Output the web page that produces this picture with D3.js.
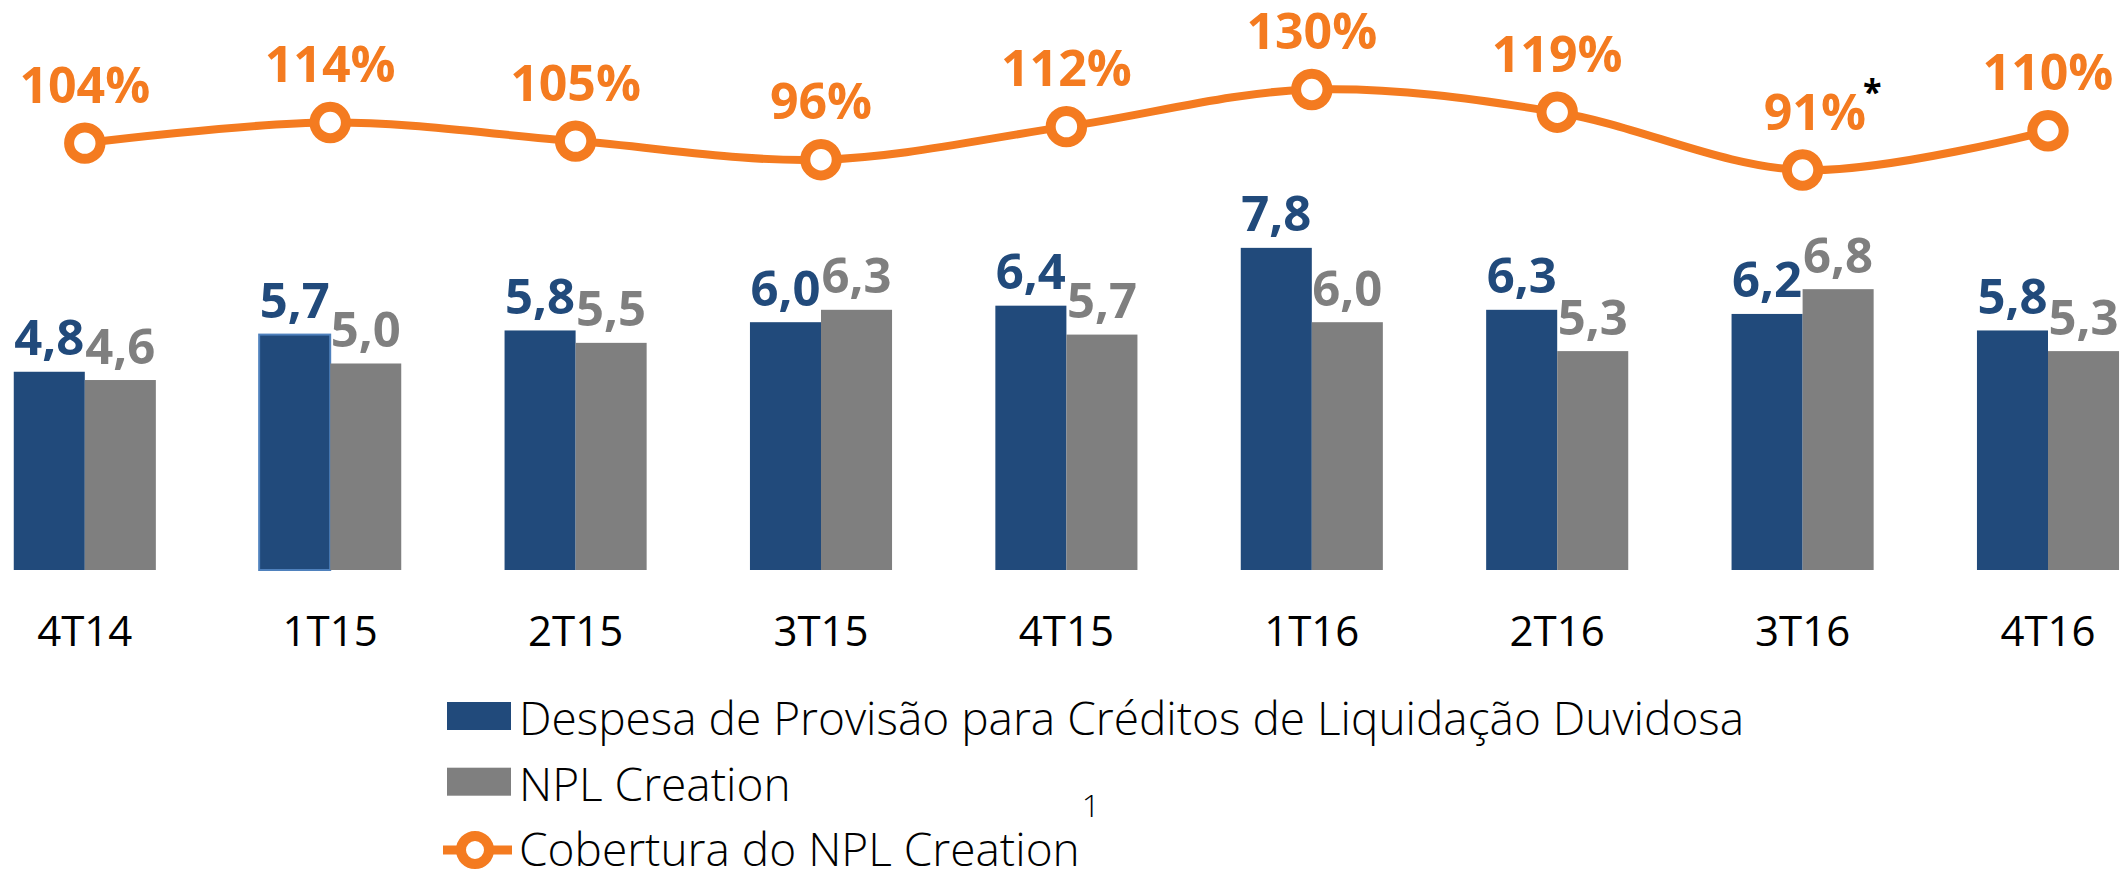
<!DOCTYPE html>
<html>
<head>
<meta charset="utf-8">
<script src="https://cdn.jsdelivr.net/npm/d3@7"></script>
<style>
  body { margin: 0; background: #fff; }
  svg { display: block; font-family: "Open Sans", sans-serif; }
</style>
</head>
<body>
<svg id="chart"></svg>
<script>
var quarters = ["4T14", "1T15", "2T15", "3T15", "4T15", "1T16", "2T16", "3T16", "4T16"]
var despesa = [4.8, 5.7, 5.8, 6.0, 6.4, 7.8, 6.3, 6.2, 5.8]
var nplCreation = [4.6, 5.0, 5.5, 6.3, 5.7, 6.0, 5.3, 6.8, 5.3]
var cobertura = [104, 114, 105, 96, 112, 130, 119, 91, 110]
var coberturaNotes = ["", "", "", "", "", "", "", "*", ""]
var seriesNames = [
  "Despesa de Provisão para Créditos de Liquidação Duvidosa",
  "NPL Creation",
  "Cobertura do NPL Creation"
]

var dimensions = {
  width: 2126,
  height: 872,
  baseline: 570,
  catLabelY: 646
}

var colors = { despesa: "#214a7b", npl: "#7f7f7f", line: "#f47b20" }

var svg = d3.select("#chart")
  .attr("width", dimensions.width)
  .attr("height", dimensions.height)

var step = 245.4
var xScale = d3.scaleBand()
  .domain(quarters)
  .range([84.8 - step / 2, 2048 + step / 2])
  .paddingInner(0.421)
  .paddingOuter(0.2105)

var keys = ["despesa", "npl"]
var xInner = d3.scaleBand()
  .domain(keys)
  .range([0, xScale.bandwidth()])

var yScale = d3.scaleLinear()
  .domain([0, 10])
  .range([dimensions.baseline, dimensions.baseline - 413])

var y2Scale = d3.scaleLinear()
  .domain([91, 130])
  .range([170, 89.5])

var rows = quarters.map((q, i) => ({
  q: q, despesa: despesa[i], npl: nplCreation[i],
  cob: cobertura[i], note: coberturaNotes[i], i: i
}))

var fmt = v => d3.format(".1f")(v).replace(".", ",")

// bars
var groups = svg.append("g")
  .selectAll("g")
  .data(rows)
  .enter()
  .append("g")
  .attr("transform", d => `translate(${xScale(d.q)},0)`)

groups.selectAll("rect")
  .data(d => keys.map(k => ({ key: k, value: d[k], i: d.i })))
  .enter()
  .append("rect")
  .attr("x", d => xInner(d.key))
  .attr("y", d => yScale(d.value))
  .attr("width", xInner.bandwidth())
  .attr("height", d => yScale(0) - yScale(d.value))
  .attr("fill", d => colors[d.key])
  .attr("stroke", d => (d.key === "despesa" && d.i === 1) ? "#4f81bd" : "none")
  .attr("stroke-width", 2)

groups.selectAll("text")
  .data(d => keys.map(k => ({ key: k, value: d[k] })))
  .enter()
  .append("text")
  .attr("x", d => xInner(d.key) + xInner.bandwidth() / 2)
  .attr("y", d => yScale(d.value) - 16.5)
  .attr("text-anchor", "middle")
  .attr("font-size", 49)
  .attr("font-weight", 700)
  .attr("fill", d => colors[d.key])
  .text(d => fmt(d.value))

// category labels
var xAxisGen = d3.axisBottom(xScale).tickSize(0).tickPadding(0)
var xAxis = svg.append("g")
  .attr("transform", `translate(0,${dimensions.catLabelY})`)
  .call(xAxisGen)
xAxis.select(".domain").remove()
xAxis.selectAll("text")
  .attr("dy", 0)
  .attr("y", 0)
  .attr("font-family", "Open Sans, sans-serif")
  .attr("font-size", 42)
  .attr("fill", "#000")

// line
var cx = d => xScale(d.q) + xScale.bandwidth() / 2
var lineGen = d3.line()
  .x(cx)
  .y(d => y2Scale(d.cob))
  .curve(d3.curveCatmullRom.alpha(0.5))

svg.append("path")
  .datum(rows)
  .attr("d", lineGen)
  .attr("fill", "none")
  .attr("stroke", colors.line)
  .attr("stroke-width", 8)

svg.append("g")
  .selectAll("circle")
  .data(rows)
  .enter()
  .append("circle")
  .attr("cx", cx)
  .attr("cy", d => y2Scale(d.cob))
  .attr("r", 15.7)
  .attr("fill", "#fff")
  .attr("stroke", colors.line)
  .attr("stroke-width", 10)

var pctLabels = svg.append("g")
  .selectAll("text")
  .data(rows)
  .enter()
  .append("text")
  .attr("x", cx)
  .attr("dx", d => d.note ? 20 : 0)
  .attr("y", d => y2Scale(d.cob) - 40.5)
  .attr("text-anchor", "middle")
  .attr("font-size", 50)
  .attr("font-weight", 700)
  .attr("fill", colors.line)
  .text(d => d.cob + "%")

pctLabels.filter(d => d.note)
  .append("tspan")
  .attr("dx", -3)
  .attr("dy", -26)
  .attr("font-size", 34)
  .attr("fill", "#000")
  .text(d => d.note)

// legend
var legend = svg.append("g").attr("transform", "translate(447,0)")
var legendBase = [735, 800.7, 866]

legend.selectAll("rect")
  .data([colors.despesa, colors.npl])
  .enter()
  .append("rect")
  .attr("x", 0)
  .attr("y", (d, i) => legendBase[i] - 33)
  .attr("width", 64)
  .attr("height", 28)
  .attr("fill", d => d)

legend.append("line")
  .attr("x1", -4).attr("x2", 65)
  .attr("y1", legendBase[2] - 16).attr("y2", legendBase[2] - 16)
  .attr("stroke", colors.line)
  .attr("stroke-width", 9)
legend.append("circle")
  .attr("cx", 28).attr("cy", legendBase[2] - 16)
  .attr("r", 14)
  .attr("fill", "#fff")
  .attr("stroke", colors.line)
  .attr("stroke-width", 10)

var legendText = legend.selectAll("text")
  .data(seriesNames)
  .enter()
  .append("text")
  .attr("x", 72)
  .attr("y", (d, i) => legendBase[i])
  .attr("font-size", 46)
  .attr("font-weight", 300)
  .attr("fill", "#000")
  .text(d => d)

legendText.filter((d, i) => i === 2)
  .append("tspan")
  .attr("dx", 2)
  .attr("dy", -49)
  .attr("font-size", 32)
  .text("1")
</script>
</body>
</html>
